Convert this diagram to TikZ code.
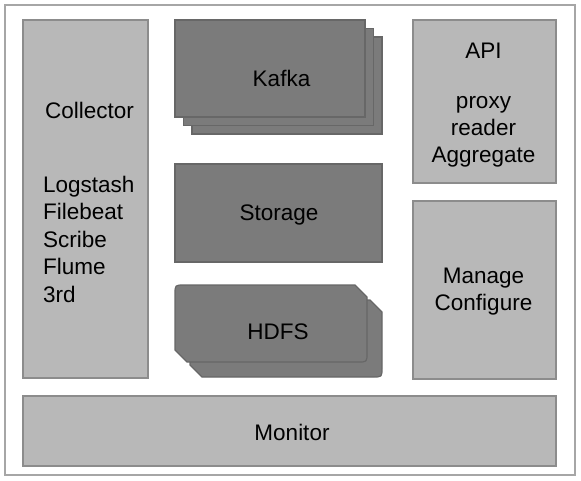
\documentclass[tikz,border=0pt]{standalone}
\usepackage{fontspec}
\setmainfont{Liberation Sans}
\begin{document}
\begin{tikzpicture}[x=1pt,y=-1pt,
  lightbox/.style={draw=lightedge,fill=lightfill,line width=1.2pt},
  darkbox/.style={draw=darkedge,fill=darkfill,line width=1.2pt},
  txt/.style={inner sep=0pt,font=\fontsize{22.5}{27}\selectfont,text=black}]
\definecolor{lightfill}{HTML}{B8B8B8}
\definecolor{lightedge}{HTML}{8C8C8C}
\definecolor{darkfill}{HTML}{7B7B7B}
\definecolor{darkedge}{HTML}{676767}
\definecolor{frameedge}{HTML}{A6A6A6}
\useasboundingbox (0,0) rectangle (581,480);
\fill[white] (0,0) rectangle (581,480);
% outer frame
\draw[frameedge,line width=2pt,fill=white] (5,5) rectangle (575,475);
% collector
\draw[lightbox] (23,20) rectangle (148,378);
\node[txt,anchor=base west] (tcoll) at (45,118) {Collector};
\node[txt,anchor=base west] (tlog) at (43,192) {Logstash};
\node[txt,anchor=base west] (tfile) at (43,219.5) {Filebeat};
\node[txt,anchor=base west] (tscr) at (43,247) {Scribe};
\node[txt,anchor=base west] (tflu) at (43,274.5) {Flume};
\node[txt,anchor=base west] (t3rd) at (43,302) {3rd};
% kafka stack
\draw[darkbox] (192,37) rectangle (382,134);
\draw[darkbox] (183.5,28.5) rectangle (373.5,125.5);
\draw[darkbox] (175,20) rectangle (365,117);
\node[txt,anchor=base] (tkafka) at (281.5,86) {Kafka};
% storage
\draw[darkbox] (175,164) rectangle (382,262);
\node[txt,anchor=base] (tstor) at (279,220) {Storage};
% hdfs stack
\begin{scope}[shift={(15,15)}]
\draw[darkbox] (175,294) .. controls (175,285) .. (184,285) -- (355,285) -- (367,297)
  -- (367,353) .. controls (367,362) .. (358,362) -- (187,362) -- (175,350) -- cycle;
\end{scope}
\draw[darkbox] (175,294) .. controls (175,285) .. (184,285) -- (355,285) -- (367,297)
  -- (367,353) .. controls (367,362) .. (358,362) -- (187,362) -- (175,350) -- cycle;
\node[txt,anchor=base] (thdfs) at (278,339) {HDFS};
% API
\draw[lightbox] (413,20) rectangle (556,183);
\node[txt,anchor=base] (tapi) at (483.5,58) {API};
\node[txt,anchor=base] (tproxy) at (483.5,108.5) {proxy};
\node[txt,anchor=base] (treader) at (483.5,135.5) {reader};
\node[txt,anchor=base] (tagg) at (483.5,162.5) {Aggregate};
% Manage
\draw[lightbox] (413,201) rectangle (556,379);
\node[txt,anchor=base] (tman) at (483.5,283) {Manage};
\node[txt,anchor=base] (tconf) at (483.5,310) {Configure};
% Monitor
\draw[lightbox] (23,396) rectangle (556,466);
\node[txt,anchor=base] (tmon) at (292,440) {Monitor};
\end{tikzpicture}
\end{document}
